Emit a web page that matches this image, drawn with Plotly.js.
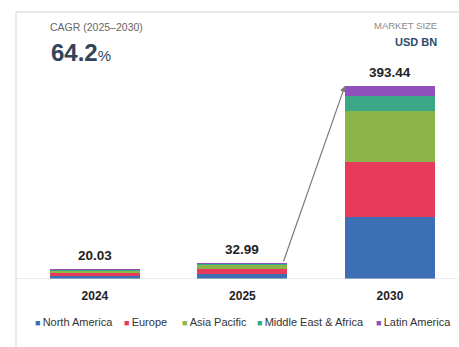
<!DOCTYPE html>
<html>
<head>
<meta charset="utf-8">
<script src="https://cdn.plot.ly/plotly-3.0.1.min.js"></script>
<style>html,body{margin:0;padding:0;background:#fff;}#chart{width:459px;height:347px;}</style>
</head>
<body>
<div id="chart"></div>
<script>
// ---- data ----
const years = ['2024', '2025', '2030'];
const totals = [20.03, 32.99, 393.44];
const northAmerica = [6.5, 10.5, 125.5];
const europe = [5.6, 9.2, 112.3];
const asiaPacific = [5.0, 8.4, 104.1];
const middleEastAfrica = [1.7, 2.9, 32.0];
const latinAmerica = [1.23, 1.99, 19.54];
const seriesNames = ['North America', 'Europe', 'Asia Pacific', 'Middle East & Africa', 'Latin America'];
const cagrLabel = 'CAGR (2025\u20132030)';
const cagrValue = '64.2';
const unitLine1 = 'MARKET SIZE';
const unitLine2 = 'USD BN';

// ---- styling ----
const FONT = '"Liberation Sans", Arial, sans-serif';
const colors = ['#3d6fb4', '#e83b5c', '#8bb548', '#3aa887', '#8f4fbd'];
const seriesValues = [northAmerica, europe, asiaPacific, middleEastAfrica, latinAmerica];
const xIdx = years.map((_, i) => i);
const BARW = 0.61;

const traces = seriesValues.map((vals, k) => ({
  type: 'bar',
  x: xIdx,
  y: vals,
  name: seriesNames[k],
  width: BARW,
  marker: {color: colors[k], line: {width: 0}},
  hoverinfo: 'skip',
  showlegend: false
}));

// pixel -> paper helpers (plot area: x 20..455, y 40..279)
const L = 20, R = 4, T = 40, B = 68, W = 459, H = 347;
const pw = W - L - R, ph = H - T - B;
const px = p => (p - L) / pw;
const py = p => (H - B - p) / ph;

const annotations = [];
// value labels
totals.forEach((t, i) => annotations.push({
  x: i, y: t, xref: 'x', yref: 'y', text: '<b>' + t.toFixed(2) + '</b>',
  showarrow: false, yanchor: 'bottom', yshift: 4,
  font: {family: FONT, size: 13.5, color: '#222'}
}));
// arrow 2025 -> 2030
annotations.push({
  x: 2 - BARW / 2, y: totals[2], xref: 'x', yref: 'y',
  ax: 1 + BARW / 2 - 0.03, ay: totals[1], axref: 'x', ayref: 'y',
  text: '', showarrow: true, arrowhead: 2, arrowsize: 1, arrowwidth: 1.2,
  arrowcolor: '#7a7a7a', standoff: 0, startstandoff: 0
});
// header texts
annotations.push({
  x: px(48), y: py(27), xref: 'paper', yref: 'paper', xanchor: 'left', yanchor: 'middle',
  text: cagrLabel, showarrow: false, font: {family: FONT, size: 10.5, color: '#666'}
});
annotations.push({
  x: px(49), y: py(53), xref: 'paper', yref: 'paper', xanchor: 'left', yanchor: 'middle',
  text: '<b>' + cagrValue + '</b><span style="font-size:15px">%</span>', showarrow: false,
  font: {family: FONT, size: 24, color: '#33445a'}
});
annotations.push({
  x: px(439), y: py(25), xref: 'paper', yref: 'paper', xanchor: 'right', yanchor: 'middle',
  text: unitLine1, showarrow: false, font: {family: FONT, size: 9.5, color: '#8a8a8a'}
});
annotations.push({
  x: px(439), y: py(42), xref: 'paper', yref: 'paper', xanchor: 'right', yanchor: 'middle',
  text: '<b>' + unitLine2 + '</b>', showarrow: false, font: {family: FONT, size: 11, color: '#2c4a70'}
});
// legend
const legendX = [33, 122, 180, 255, 374];
seriesNames.forEach((n, k) => annotations.push({
  x: px(legendX[k]), y: py(322), xref: 'paper', yref: 'paper', xanchor: 'left', yanchor: 'middle',
  text: '<span style="color:' + colors[k] + ';font-size:9px">\u25A0</span>\u2009' + n,
  showarrow: false, font: {family: FONT, size: 11, color: '#333'}
}));

const shapes = [
  // baseline
  {type: 'line', xref: 'paper', yref: 'y', x0: px(16), x1: px(459), y0: 0, y1: 0, line: {color: '#d9d9d9', width: 1}},
  // frame top
  {type: 'line', xref: 'paper', yref: 'paper', x0: px(16), x1: px(459), y0: py(12), y1: py(12), line: {color: '#d4d4d4', width: 1}},
  // frame left
  {type: 'line', xref: 'paper', yref: 'paper', x0: px(16), x1: px(16), y0: py(12), y1: py(347), line: {color: '#d4d4d4', width: 1}}
];

const layout = {
  width: W, height: H,
  margin: {l: L, r: R, t: T, b: B, pad: 0},
  paper_bgcolor: '#fff', plot_bgcolor: '#fff',
  barmode: 'stack',
  showlegend: false,
  xaxis: {
    range: [-0.508, 2.441], tickvals: xIdx, ticktext: years.map(y => '<b>' + y + '</b>'),
    showgrid: false, zeroline: false, showline: false, ticks: '',
    ticklabelstandoff: 8,
    tickfont: {family: FONT, size: 12, color: '#222'}, fixedrange: true
  },
  yaxis: {
    range: [0, 487], visible: false, showgrid: false, zeroline: false, fixedrange: true
  },
  annotations: annotations,
  shapes: shapes
};

Plotly.newPlot('chart', traces, layout, {displayModeBar: false, staticPlot: true});
</script>
</body>
</html>
